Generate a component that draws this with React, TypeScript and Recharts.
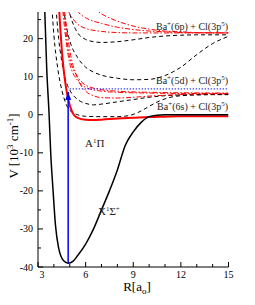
import React from 'react';
import { LineChart, Line, XAxis, YAxis } from 'recharts';

// potential curves, R in bohr, V in 10^3 cm^-1
const rX = [3.42, 3.55, 3.7, 3.8, 3.95, 4.1, 4.3, 4.6, 4.9, 5.2, 5.5, 6, 6.5, 7, 7.5, 8, 8.5, 9, 9.5, 10, 10.5, 11, 12, 13, 14, 15];
const vX = [28, 12, 0, -10, -20, -29, -35, -38.3, -39, -38.5, -37, -34, -30, -25, -20, -14.5, -8, -4.5, -2, -0.5, -0.1, 0, 0, 0, 0, 0];

const rA = [4.3, 4.4, 4.5, 4.6, 4.75, 5, 5.25, 5.5, 6, 6.5, 7, 8, 9, 10, 11, 12, 13, 15];
const vA = [30, 23, 17, 12.5, 7.5, 2.5, 0, -0.8, -1.3, -1.4, -1.3, -1.0, -0.8, -0.6, -0.5, -0.4, -0.4, -0.4];

const rD1 = [3.85, 4, 4.25, 4.5, 4.75, 5, 5.5, 6, 7, 8, 8.75, 9.25, 9.75, 10.25, 10.75, 11.25, 12, 13, 14, 15];
const vD1 = [30, 21, 12, 6.5, 3, 1.2, 0, -0.4, -0.5, -0.5, -0.2, 0.5, 1.6, 2.8, 3.8, 4.5, 5.0, 5.2, 5.3, 5.3];

const rD2 = [4.1, 4.3, 4.5, 4.75, 5, 5.5, 6, 6.5, 7, 8, 9, 10, 11, 12, 13, 15];
const vD2 = [30, 20, 14, 9, 6.5, 4, 3, 2.6, 2.8, 3.4, 4, 4.6, 5, 5.2, 5.3, 5.3];

const rD3 = [4.55, 4.75, 5, 5.5, 6, 6.5, 7, 8, 9, 10, 11, 12, 13, 14, 15];
const vD3 = [30, 24, 19.5, 15, 12.5, 11.2, 10.4, 9.6, 9.2, 9.3, 10.3, 12.5, 15.8, 18.7, 20.6];

const rD4 = [4.8, 5, 5.25, 5.5, 6, 6.5, 7, 8, 9, 10, 11, 12, 13, 15];
const vD4 = [30, 26.5, 23.5, 21.5, 19.8, 19.2, 19, 19.2, 19.7, 20.3, 20.7, 20.9, 21, 21];

const rR1 = [4.6, 5, 5.5, 6, 7, 8, 9, 15];
const vR1 = [30, 26.5, 23.8, 22.7, 21.9, 21.6, 21.5, 21.5];
const rR2 = [5.2, 5.5, 6, 6.5, 7, 8, 9, 10, 11, 12, 15];
const vR2 = [30, 27.3, 25.5, 24.6, 24, 23, 22.4, 22, 21.8, 21.6, 21.5];
const rR3 = [6, 6.5, 7, 8, 9, 10, 11, 12, 13, 15];
const vR3 = [30, 28, 26.5, 24.6, 23.3, 22.5, 22, 21.8, 21.6, 21.5];

const rR4 = [4.5, 4.75, 5, 5.5, 6, 7, 8, 10, 12, 15];
const vR4 = [30, 20, 13.5, 9, 7.2, 6.2, 5.9, 5.7, 5.6, 5.6];
const rR5 = [4.55, 5, 5.5, 6, 7, 8, 10, 15];
const vR5 = [30, 15, 10, 7.8, 6.6, 6.2, 5.9, 5.7];
const rR6 = [4.6, 5, 5.5, 6, 6.5, 7, 8, 9, 10, 12, 15];
const vR6 = [30, 17, 9.5, 6.2, 5, 4.5, 4.4, 4.6, 4.9, 5.3, 5.5];

const rDot = [5, 15];
const vDot = [6.8, 6.8];
const rArrow = [4.9, 4.9];
const vArrow = [-39, 6];

const xTicks = [3, 4, 5, 6, 7, 8, 9, 10, 11, 12, 13, 14, 15];
const yTicks = [-40, -35, -30, -25, -20, -15, -10, -5, 0, 5, 10, 15, 20, 25];

const pts = (r: number[], v: number[]) => r.map((R, i) => ({ R, V: v[i] }));

const FONT = '"Liberation Serif", "Times New Roman", serif';

const BottomTick = (p: any) => {
  const major = p.payload.value % 3 === 0;
  return (
    <g>
      <line x1={p.x} x2={p.x} y1={p.y} y2={p.y - (major ? 5 : 3)} stroke="#000" />
      {major && (
        <text x={p.x + (p.payload.value === 3 ? 4 : 0)} y={p.y + 11} textAnchor="middle" fontSize={10} fontFamily={FONT} fill="#000">
          {p.payload.value}
        </text>
      )}
    </g>
  );
};

const TopTick = (p: any) => {
  const major = p.payload.value % 3 === 0;
  return <line x1={p.x} x2={p.x} y1={p.y} y2={p.y + (major ? 5 : 3)} stroke="#000" />;
};

const LeftTick = (p: any) => {
  const major = p.payload.value % 10 === 0;
  return (
    <g>
      <line x1={p.x} x2={p.x + (major ? 5 : 3)} y1={p.y} y2={p.y} stroke="#000" />
      {major && (
        <text x={p.x - 5} y={p.y + 3.5} textAnchor="end" fontSize={10} fontFamily={FONT} fill="#000">
          {p.payload.value}
        </text>
      )}
    </g>
  );
};

const RightTick = (p: any) => {
  const major = p.payload.value % 10 === 0;
  return <line x1={p.x} x2={p.x - (major ? 5 : 3)} y1={p.y} y2={p.y} stroke="#000" />;
};

const ArrowHead = (p: any) => {
  if (p.index !== 1) return <g key={p.index} />;
  return (
    <polygon
      key={p.index}
      points={`${p.cx},${p.cy} ${p.cx - 3},${p.cy + 8} ${p.cx + 3},${p.cy + 8}`}
      fill="#0000ff"
    />
  );
};

const Asym = ({ x, y, state }: { x: number; y: number; state: string }) => (
  <text x={x} y={y} textAnchor="end" fontSize={10} fontFamily={FONT} fill="#222">
    Ba<tspan dy={-4} fontSize={7}>+</tspan>
    <tspan dy={4}>({state}) + Cl(3p</tspan>
    <tspan dy={-4} fontSize={7}>5</tspan>
    <tspan dy={4}>)</tspan>
  </text>
);

const dashed = { stroke: '#000', strokeWidth: 1, strokeDasharray: '4 3' };
const dashDot = { stroke: '#ff0000', strokeWidth: 1, strokeDasharray: '5 2 1.5 2' };

const App: React.FC = () => {
  return (
    <div style={{ position: 'absolute', left: 0, top: 0, width: 255, height: 305, background: '#fff' }}>
      <LineChart width={255} height={305} margin={{ top: 12, right: 26.5, bottom: 0, left: 0 }}>
        <XAxis dataKey="R" type="number" domain={[3, 15]} ticks={xTicks} interval={0} allowDataOverflow
          height={38} tickSize={0} tickMargin={0} tickLine={false} axisLine={{ stroke: '#000' }} tick={<BottomTick />} />
        <XAxis xAxisId="t" orientation="top" dataKey="R" type="number" domain={[3, 15]} ticks={xTicks} interval={0}
          allowDataOverflow height={0} tickSize={0} tickMargin={0} tickLine={false} axisLine={{ stroke: '#000' }} tick={<TopTick />} />
        <YAxis type="number" domain={[-40, 27]} ticks={yTicks} interval={0} allowDataOverflow width={38}
          tickSize={0} tickMargin={0} tickLine={false} axisLine={{ stroke: '#000' }} tick={<LeftTick />} />
        <YAxis yAxisId="r" orientation="right" type="number" domain={[-40, 27]} ticks={yTicks} interval={0}
          allowDataOverflow width={0} tickSize={0} tickMargin={0} tickLine={false} axisLine={{ stroke: '#000' }} tick={<RightTick />} />

        <Line data={pts(rD4, vD4)} dataKey="V" type="monotone" dot={false} activeDot={false} isAnimationActive={false} {...dashed} />
        <Line data={pts(rD3, vD3)} dataKey="V" type="monotone" dot={false} activeDot={false} isAnimationActive={false} {...dashed} />
        <Line data={pts(rD2, vD2)} dataKey="V" type="monotone" dot={false} activeDot={false} isAnimationActive={false} {...dashed} />
        <Line data={pts(rD1, vD1)} dataKey="V" type="monotone" dot={false} activeDot={false} isAnimationActive={false} {...dashed} />

        <Line data={pts(rR1, vR1)} dataKey="V" type="monotone" dot={false} activeDot={false} isAnimationActive={false} {...dashDot} />
        <Line data={pts(rR2, vR2)} dataKey="V" type="monotone" dot={false} activeDot={false} isAnimationActive={false} {...dashDot} />
        <Line data={pts(rR3, vR3)} dataKey="V" type="monotone" dot={false} activeDot={false} isAnimationActive={false} {...dashDot} />
        <Line data={pts(rR4, vR4)} dataKey="V" type="monotone" dot={false} activeDot={false} isAnimationActive={false} {...dashDot} />
        <Line data={pts(rR5, vR5)} dataKey="V" type="monotone" dot={false} activeDot={false} isAnimationActive={false} {...dashDot} />
        <Line data={pts(rR6, vR6)} dataKey="V" type="monotone" dot={false} activeDot={false} isAnimationActive={false} {...dashDot} />

        <Line data={pts(rA, vA)} dataKey="V" type="monotone" stroke="#ff0000" strokeWidth={2} dot={false} activeDot={false} isAnimationActive={false} />
        <Line data={pts(rX, vX)} dataKey="V" type="monotone" stroke="#000" strokeWidth={1.5} dot={false} activeDot={false} isAnimationActive={false} />

        <Line data={pts(rDot, vDot)} dataKey="V" type="linear" stroke="#0000ff" strokeWidth={1.2} strokeDasharray="1 2" dot={false} activeDot={false} isAnimationActive={false} />
        <Line data={pts(rArrow, vArrow)} dataKey="V" type="linear" stroke="#0000ff" strokeWidth={1.5} dot={<ArrowHead />} activeDot={false} isAnimationActive={false} />
      </LineChart>

      <svg width={255} height={305} style={{ position: 'absolute', left: 0, top: 0, pointerEvents: 'none' }}>
        <Asym x={228} y={30} state="6p" />
        <Asym x={228} y={84} state="5d" />
        <Asym x={228} y={110} state="6s" />
        <text x={85} y={147} fontSize={11} fontFamily={FONT} fill="#222">
          A<tspan dy={-4} fontSize={7}>1</tspan><tspan dy={4}>Π</tspan>
        </text>
        <text x={98} y={215} fontSize={11} fontFamily={FONT} fill="#222">
          X<tspan dy={-4} fontSize={7}>1</tspan><tspan dy={4}>Σ</tspan><tspan dy={-4} fontSize={7}>+</tspan>
        </text>
        <text x={137} y={291} textAnchor="middle" fontSize={13} fontFamily={FONT} fill="#000">
          R[a<tspan dy={3} fontSize={9}>o</tspan><tspan dy={-3}>]</tspan>
        </text>
        <text transform="translate(18,146) rotate(-90)" textAnchor="middle" fontSize={13} fontFamily={FONT} fill="#000">
          V [10<tspan dy={-5} fontSize={9}>3</tspan><tspan dy={5}> cm</tspan><tspan dy={-5} fontSize={9}>-1</tspan><tspan dy={5}>]</tspan>
        </text>
      </svg>
    </div>
  );
};

export default App;
